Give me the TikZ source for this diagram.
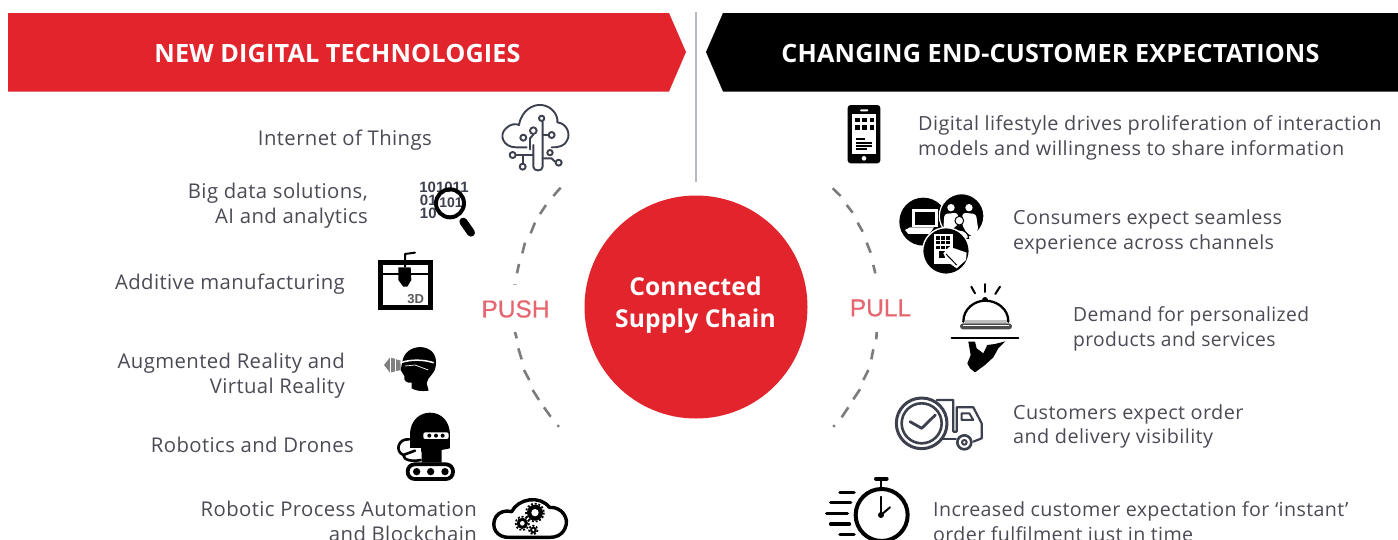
\documentclass[tikz,border=0pt]{standalone}
\usepackage{fontspec}
\setmainfont{Open Sans}
\newfontfamily\bodyfont[LetterSpace=2.0]{Open Sans}
\newfontfamily\headfont[LetterSpace=0.6]{Open Sans}
\newfontfamily\pplabel[FakeBold=0.5]{Liberation Sans}
\newfontfamily\digitfont{Liberation Sans}
\usetikzlibrary{calc}
\definecolor{hred}{HTML}{E2252D}
\definecolor{ctext}{HTML}{4A4B55}
\definecolor{cslate}{HTML}{3D404E}
\definecolor{cdash}{HTML}{7C7C7C}
\definecolor{cpp}{HTML}{E5666E}
\definecolor{cdiv}{HTML}{B4BAC2}
\tikzset{
  lefttext/.style={anchor=east,align=right,text=ctext,inner sep=0pt,font=\bodyfont\fontsize{20.3}{24.8}\selectfont},
  righttext/.style={anchor=west,align=left,text=ctext,inner sep=0pt,transform shape,font=\bodyfont\fontsize{19.5}{24.6}\selectfont},
  headtext/.style={text=white,inner sep=0pt,font=\headfont\bfseries\fontsize{25.2}{30}\selectfont},
  hubtext/.style={text=white,inner sep=0pt,align=center,font=\headfont\bfseries\fontsize{24.6}{32}\selectfont},
  pptext/.style={text=cpp,inner sep=0pt,font=\pplabel\fontsize{24.5}{28}\selectfont},
  dashseg/.style={draw=cdash,line width=2.6pt},
  digit/.style={text=cslate,inner sep=0pt,font=\digitfont\bfseries\fontsize{15}{15}\selectfont},
  za/.style={shift={(370,90)},x=.3333pt,y=-.3333pt},
  zb/.style={shift={(370,320)},x=.3333pt,y=-.3333pt},
  zc/.style={shift={(810,90)},x=.3333pt,y=-.3333pt},
  zd/.style={shift={(810,320)},x=.3333pt,y=-.3333pt},
  ze/.style={shift={(930,270)},x=.3333pt,y=-.3333pt},
  slate/.style={draw=cslate,line width=1.9pt,line cap=round,line join=round},
  ink/.style={draw=black,line cap=round,line join=round},
}
\begin{document}
\begin{tikzpicture}[x=1pt,y=-1pt]
\clip (0,0) rectangle (1398,539);
\fill[white] (0,0) rectangle (1398,539);
% banners
\fill[hred] (8,13) -- (669,13) -- (686,52) -- (669,91.5) -- (8,91.5) -- cycle;
\fill[black] (1398,13) -- (723,13) -- (706,52) -- (723,91.5) -- (1398,91.5) -- cycle;
\draw[cdiv,line width=1.4pt] (696,12) -- (696,182);
\node[headtext] (hl) at (337.5,53) {NEW DIGITAL TECHNOLOGIES};
\node[headtext] (hr) at (1050.5,53) {CHANGING END-CUSTOMER EXPECTATIONS};
% hub
\fill[hred] (696,307) circle (111.5);
\node[hubtext] (hub) at (695.5,305) {Connected\\Supply Chain};
\node[pptext] (push) at (515.5,309) {PUSH};
\node[pptext] (pull) at (880.5,308) {PULL};
% dashes
\begin{scope}[za]
\foreach \a/\b/\c/\d in {572/293/550/318,528/345/510/372,495/398/482/430,465/458/457/490,447/522/441/550}
  \draw[dashseg] (\a,\b) -- (\c,\d);
\draw[dashseg,line width=.8pt,draw=cdash!60] (430,583) -- (442,583);
\end{scope}
\begin{scope}[zb]
\foreach \a/\b/\c/\d in {435/36/440/55,445/85/455/118,462/150/478/180,488/210/507/240,522/262/542/290}
  \draw[dashseg] (\a,\b) -- (\c,\d);
\fill[cdash] (565,318) circle (5);
\end{scope}
\begin{scope}[zc]
\foreach \a/\b/\c/\d in {68/295/92/318,110/345/128/368,143/398/158/425,170/458/182/488,190/525/196/550}
  \draw[dashseg] (\a,\b) -- (\c,\d);
\end{scope}
\begin{scope}[zd]
\foreach \a/\b/\c/\d in {200/36/199/58,190/88/184/118,175/150/160/180,150/208/130/238,115/262/95/292}
  \draw[dashseg] (\a,\b) -- (\c,\d);
\fill[cdash] (72,318) circle (5);
\end{scope}
% left texts
\node[lefttext] (t1) at (432,140) {Internet of Things};
\node[lefttext] (t2) at (368,206) {Big data solutions,\\AI and analytics};
\node[lefttext] (t3) at (345,284) {Additive manufacturing};
\node[lefttext] (t4) at (345,375.5) {Augmented Reality and\\Virtual Reality};
\node[lefttext] (t5) at (354,445) {Robotics and Drones};
\node[lefttext] (t6) at (477,521) {Robotic Process Automation\\and Blockchain};
% right texts
\node[righttext,xscale=1.02] (r1) at (918,138) {Digital lifestyle drives proliferation of interaction\\models and willingness to share information};
\node[righttext,xscale=1.011] (r2) at (1013,232) {Consumers expect seamless\\experience across channels};
\node[righttext,xscale=.987] (r3) at (1073,329) {Demand for personalized\\products and services};
\node[righttext,xscale=1.018] (r4) at (1013,426.5) {Customers expect order\\and delivery visibility};
\node[righttext,xscale=1.007] (r5) at (933,524) {Increased customer expectation for ‘instant’\\order fulfilment just in time};

% IoT cloud
\begin{scope}[za]
\draw[slate] (470,172) -- (438,172) .. controls (400,172) and (385,135) .. (408,115) .. controls (420,102) and (438,100) .. (447,105) .. controls (455,60) and (490,42) .. (515,45) .. controls (545,48) and (565,75) .. (562,97) .. controls (590,100) and (602,130) .. (592,150) .. controls (585,168) and (565,173) .. (545,172);
\draw[slate] (490,165) -- (490,230) .. controls (490,245) and (518,245) .. (518,230) -- (518,95);
\draw[slate] (515,85) circle (8);
\draw[slate] (518,135) -- (535,135); \draw[slate] (545,135) circle (9);
\draw[slate] (490,122) circle (10);
\draw[slate] (490,134) -- (480,145) -- (480,178);
\draw[slate] (460,143) circle (9);
\draw[slate] (428,195) circle (9); \draw[slate] (438,195) -- (488,195);
\draw[slate] (458,230) circle (9); \draw[slate] (458,220) -- (458,195);
\draw[slate] (540,188) circle (8); \draw[slate] (518,205) -- (545,205) -- (555,215);
\draw[slate] (566,218) circle (9);
\end{scope}
% big data
\begin{scope}[za]
\node[digit] (bd1) at (222,293) {101011};
\node[digit] (bd2) at (175,331) {01};
\node[digit] (bd3) at (175,369) {10};
\node[digit,font=\digitfont\bfseries\fontsize{14}{14}\selectfont] (bd4) at (243,338) {101};
\draw[ink,line width=4pt] (240,340) circle (42);
\draw[ink,line width=8pt] (280,395) -- (303,428);
\end{scope}
% 3D printer
\begin{scope}[za]
\draw[ink,line join=miter,line width=5pt] (32,517) rectangle (181,653);
\draw[ink,line width=2.6pt] (32,552) -- (181,552);
\draw[ink,line width=2pt] (105,530) -- (105,492) -- (135,488);
\fill[black] (85,532) -- (122,532) -- (124,570) -- (112,590) -- (100,590) -- (85,570) -- cycle;
\node[text=black!65,inner sep=0pt,font=\digitfont\bfseries\fontsize{13}{13}\selectfont] (pr3d) at (137,626) {3D};
\end{scope}
% VR head
\begin{scope}[zb]
\fill[black] (98,120) .. controls (105,90) and (135,78) .. (160,82) .. controls (190,88) and (202,110) .. (197,140) .. controls (193,165) and (172,170) .. (170,190) -- (176,212) .. controls (155,215) and (135,212) .. (125,205) -- (125,188) .. controls (110,190) and (100,182) .. (103,168) -- (92,150) -- cycle;
\fill[black!50] (42,135) -- (60,112) -- (92,122) -- (92,150) -- (60,158) -- cycle;
\foreach \xx in {60,76} \draw[white,line width=.6pt] (\xx,110) -- (\xx,160);
\draw[white,line width=1.5pt,line cap=round] (92,128) .. controls (120,118) and (160,118) .. (190,128);
\draw[white,line width=.7pt] (105,138) -- (135,135) -- (175,150);
\end{scope}
% robot
\begin{scope}[zb]
\fill[black] (120,390) -- (120,340) .. controls (122,300) and (150,278) .. (180,278) .. controls (215,278) and (240,305) .. (240,345) -- (240,385) -- (215,390) -- (215,428) -- (155,428) -- (155,395) -- cycle;
\fill[white,rounded corners=2pt] (160,337) rectangle (236,357);
\foreach \p in {178,198,218} \fill[black] (\p,347) circle (6);
\fill[white] (118,385) -- (152,385) -- (152,422) -- (118,422) -- cycle;
\draw[ink,line width=2.6pt] (118,358) .. controls (82,355) and (75,395) .. (100,405) -- (135,392);
\draw[ink,line width=2.6pt] (100,405) .. controls (100,422) and (130,425) .. (152,420);
\draw[ink,line width=3.8pt,fill=white,rounded corners=7pt] (113,433) rectangle (249,477);
\foreach \p in {140,182,225} {\fill[black] (\p,455) circle (11);}
\end{scope}
% gear cloud
\begin{scope}[zb]
\draw[ink,line width=3.4pt] (420,652) .. controls (380,655) and (360,620) .. (378,590) .. controls (388,575) and (408,570) .. (425,575) .. controls (445,535) and (510,525) .. (538,562) .. controls (575,560) and (600,595) .. (585,625) .. controls (575,648) and (555,652) .. (540,652) -- cycle;
\foreach \cx/\cy/\ro/\ri in {495/578/24/11,457/610/17/7,490/630/10/4} {
  \fill[black] (\cx,\cy) circle (\ro);
  \draw[black,line width=1.7pt,dash pattern=on 2pt off 1.8pt] (\cx,\cy) circle (\ro+3);
  \fill[white] (\cx,\cy) circle (\ri);
}
\end{scope}
% phone
\begin{scope}[zc]
\fill[black,rounded corners=3pt] (113,45) rectangle (211,220);
\fill[white] (125,72) rectangle (199,192);
\fill[white,rounded corners=1pt] (150,58) rectangle (175,64);
\fill[white] (162,205) circle (7);
\foreach \xx in {142,164,186} \foreach \yy in {90,112} \fill[black] (\xx-7,\yy-7) rectangle (\xx+7,\yy+7);
\foreach \yy/\e in {148/165,158/186,168/186,177/170} \fill[black] (137,\yy-3) rectangle (\e,\yy+3);
\end{scope}
% three-circles
\begin{scope}[zc]
\fill[black] (340,395) circle (72);
\draw[white,line width=1.2pt,fill=black] (455,378) circle (67);
% people
\fill[white] (423,353) circle (11); \fill[white] (477,353) circle (11);
\fill[white,rounded corners=3pt] (400,420) -- (403,372) -- (443,368) -- (447,400) -- (425,420) -- cycle;
\fill[white,rounded corners=3pt] (455,400) -- (458,368) -- (498,372) -- (505,420) -- (490,440) -- (470,430) -- cycle;
\draw[black,fill=white,line width=1pt] (448,392) circle (13);
\draw[black,fill=white,line width=1pt] (422,445) .. controls (422,412) and (474,412) .. (476,445) -- cycle;
\draw[white,line width=1.4pt,fill=black] (408,483) circle (70);
% laptop
\fill[white] (305,358) rectangle (383,412);
\fill[black] (314,366) rectangle (374,404);
\fill[white] (285,420) -- (300,412) -- (372,412) -- (358,432) -- (295,432) -- cycle;
% tablet & hand
\fill[white] (373,432) rectangle (428,522);
\foreach \xx in {384,399,414} \foreach \yy in {444,458,472} \fill[black] (\xx-5,\yy-5) rectangle (\xx+5,\yy+5);
\fill[black] (386,484) rectangle (404,505);
\fill[white] (400,490) -- (418,470) -- (470,488) -- (468,510) -- (440,535) -- (412,515) -- cycle;
\draw[black,line width=1pt] (408,492) -- (440,525);
\end{scope}
% cloche
\begin{scope}[ze]
\draw[ink,line width=2pt] (124,50) -- (135,70);
\draw[ink,line width=2pt] (165,42) -- (165,66);
\draw[ink,line width=2pt] (210,50) -- (196,72);
\fill[black] (165,90) circle (9);
\draw[ink,line width=2.3pt,fill=white] (100,155) .. controls (100,115) and (135,92) .. (165,92) .. controls (200,92) and (235,115) .. (235,155);
\fill[white!75!black] (105,150) rectangle (232,160);
\fill[black!70,rounded corners=3pt] (90,160) rectangle (246,178);
\fill[white] (100,165) rectangle (236,169);
\draw[ink,line width=1.9pt] (65,205) -- (265,205);
\fill[black] (115,215) -- (135,215) -- (140,235) -- (160,250) -- (172,225) -- (195,222) -- (226,214) -- (205,235) -- (190,262) -- (165,285) -- (135,307) -- (120,295) -- (112,280) -- (122,255) -- cycle;
\end{scope}
% truck
\begin{scope}[zd]
\draw[slate,line width=3pt] (335,310) circle (76);
\draw[slate,line width=2.6pt] (335,310) circle (60);
\draw[slate,line width=2.8pt] (300,305) -- (335,325) -- (376,285);
\draw[slate,line width=2.2pt] (380,240) -- (430,240) -- (430,335) -- (440,335) -- (440,262) -- (490,262) -- (515,310) -- (515,355) -- (490,365);
\draw[slate,line width=2pt] (455,280) -- (455,300) -- (490,300) -- (478,280) -- cycle;
\draw[slate] (395,358) -- (438,358);
\draw[slate,line width=2.6pt,fill=white] (463,367) circle (21);
\draw[slate,line width=2pt] (463,367) circle (7);
\end{scope}
% stopwatch
\begin{scope}[zd]
\draw[ink,line width=4pt] (215,585) circle (78);
\draw[ink,line width=4pt] (198,476) -- (230,476);
\draw[ink,line width=2.4pt] (213,480) -- (213,505);
\draw[ink,line width=1.4pt] (213,530) -- (213,588);
\draw[ink,line width=2pt] (213,585) -- (240,562);
\fill[black] (213,585) circle (9);
\foreach \a/\b/\yy in {90/132/518,62/122/548,50/112/580,62/118/612,90/132/643}
  \draw[ink,line width=3.6pt] (\a,\yy) -- (\b,\yy);
\end{scope}
\end{tikzpicture}
\end{document}
